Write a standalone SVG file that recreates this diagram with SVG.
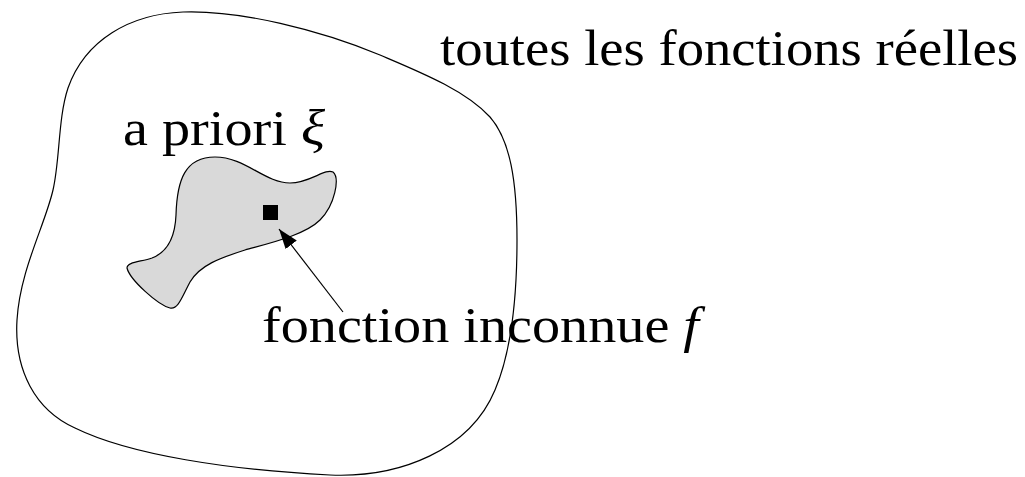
<svg xmlns="http://www.w3.org/2000/svg" width="1025" height="477" viewBox="0 0 1025 477">
<style>
.line{fill:none;stroke:#000;stroke-width:1.2}
.lbl{font-family:"Liberation Serif","DejaVu Serif",serif;font-size:51px;fill:#000}
.it{font-style:italic}
</style>
<defs>
<marker id="ah" viewBox="0 0 20 14" refX="20" refY="7" markerWidth="20" markerHeight="14" markerUnits="userSpaceOnUse" orient="auto">
<path d="M0,0 L20,7 L0,14 Z" fill="#000"/>
</marker>
</defs>
<rect width="1025" height="477" fill="#fff"/>
<g id="all-functions">
<path class="line" d="M183,12 C130,14 85,40 68,88 C58,118 60,160 53,190 C45,225 20,270 17,320 C14,370 35,410 75,428 C130,455 230,470 330,475 C400,478 470,450 495,390 C512,350 517,290 517,240 C517,180 510,140 490,117 C465,90 420,72 380,55 C320,30 240,10 183,12 Z"/>
<text class="lbl" x="440" y="65" textLength="578" lengthAdjust="spacingAndGlyphs">toutes les fonctions réelles</text>
</g>
<g id="prior">
<path d="M215,157 C245,157 265,183 290,183 C310,183 325,168 333,172 C340,178 335,205 320,220 C305,235 270,243 245,250 C220,258 200,265 190,282 C182,297 178,310 170,308 C158,305 130,280 127,268 C127,262 140,262 152,258 C165,253 175,240 176,215 C177,180 185,157 215,157 Z" fill="#d9d9d9" stroke="#000" stroke-width="1.2"/>
<text class="lbl" x="123" y="145" textLength="202" lengthAdjust="spacingAndGlyphs">a priori <tspan class="it">ξ</tspan></text>
</g>
<g id="unknown-function">
<rect x="263" y="205" width="15" height="15" fill="#000"/>
<text class="lbl" x="262" y="342" textLength="437" lengthAdjust="spacingAndGlyphs">fonction inconnue <tspan class="it">f</tspan></text>
</g>
<g id="connectors">
<line class="line" x1="343" y1="312" x2="279" y2="229" marker-end="url(#ah)"/>
</g>
</svg>
